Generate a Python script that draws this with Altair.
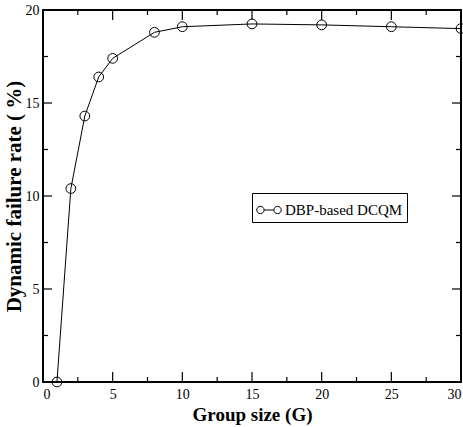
import altair as alt
import pandas as pd

# Group size vs. dynamic failure rate
group_size = [1, 2, 3, 4, 5, 8, 10, 15, 20, 25, 30]
failure_rate = [0.0, 10.4, 14.3, 16.4, 17.4, 18.8, 19.1, 19.25, 19.2, 19.1, 19.0]
series_name = "DBP-based DCQM"

x_major = [0, 5, 10, 15, 20, 25, 30]
x_minor = [2.5, 7.5, 12.5, 17.5, 22.5, 27.5]
y_major = [0, 5, 10, 15, 20]
y_minor = [2.5, 7.5, 12.5, 17.5]

W, H = 418, 372
FONT = "Liberation Serif"

df = pd.DataFrame({"G": group_size, "rate": failure_rate, "series": series_name})

xs = alt.Scale(domain=[0, 30], nice=False)
ys = alt.Scale(domain=[0, 20], nice=False)

x_axis = alt.Axis(values=x_major, ticks=False, domain=False, grid=False,
                  title="Group size (G)", labelPadding=5, titlePadding=4,
                  labelFont=FONT, titleFont=FONT, titleFontSize=19)
y_axis = alt.Axis(values=y_major, ticks=False, domain=False, grid=False,
                  title="Dynamic failure rate ( %)", labelPadding=4, titlePadding=1,
                  labelFont=FONT, titleFont=FONT, titleFontSize=21)

line = alt.Chart(df).mark_line(color="black", strokeWidth=1).encode(
    x=alt.X("G:Q", scale=xs, axis=x_axis),
    y=alt.Y("rate:Q", scale=ys, axis=y_axis),
)

# legend glyph: two open circles joined by a short line
legend_symbol = ("M -1,0 a 0.3,0.3 0 1,0 0.6,0 a 0.3,0.3 0 1,0 -0.6,0 "
                 "M -0.4,0 L 0.4,0 "
                 "M 0.4,0 a 0.3,0.3 0 1,0 0.6,0 a 0.3,0.3 0 1,0 -0.6,0")

points = alt.Chart(df).mark_point(shape="circle", size=95, filled=False,
                                  strokeWidth=1, opacity=1).encode(
    x=alt.X("G:Q", scale=xs, axis=x_axis),
    y=alt.Y("rate:Q", scale=ys, axis=y_axis),
    color=alt.Color("series:N", scale=alt.Scale(range=["black"]),
                    legend=alt.Legend(
                        title=None, orient="none", legendX=209, legendY=183,
                        symbolType=legend_symbol, symbolSize=600,
                        symbolStrokeColor="black", symbolFillColor="transparent",
                        symbolStrokeWidth=1, labelFont=FONT, labelFontSize=15,
                        labelColor="black", strokeColor="black", padding=4,
                        fillColor="white", labelOffset=3)),
)

def xticks(vals, length):
    d = pd.DataFrame({"t": vals})
    bottom = alt.Chart(d).mark_rule(color="black", strokeWidth=1.2).encode(
        x=alt.X("t:Q", scale=xs, axis=x_axis),
        y=alt.value(H), y2=alt.value(H - length))
    top = alt.Chart(d).mark_rule(color="black", strokeWidth=1.2).encode(
        x=alt.X("t:Q", scale=xs, axis=x_axis),
        y=alt.value(0), y2=alt.value(length))
    return [bottom, top]

def yticks(vals, length):
    d = pd.DataFrame({"t": vals})
    left = alt.Chart(d).mark_rule(color="black", strokeWidth=1.2).encode(
        y=alt.Y("t:Q", scale=ys, axis=y_axis),
        x=alt.value(0), x2=alt.value(length))
    right = alt.Chart(d).mark_rule(color="black", strokeWidth=1.2).encode(
        y=alt.Y("t:Q", scale=ys, axis=y_axis),
        x=alt.value(W), x2=alt.value(W - length))
    return [left, right]

layers = ([line] + xticks(x_major, 10) + xticks(x_minor, 5)
          + yticks(y_major, 9) + yticks(y_minor, 5) + [points])

chart = alt.layer(*layers).properties(
    width=W, height=H,
    autosize=alt.AutoSizeParams(type="none"),
    padding={"left": 43, "top": 10, "right": 2, "bottom": 45},
    background="white",
).configure(
    font=FONT
).configure_view(
    stroke="black", strokeWidth=2
).configure_axis(
    labelFont=FONT, labelFontSize=14, labelColor="black",
    titleFont=FONT, titleFontWeight="bold", titleColor="black",
)

chart.save("out.html", embed_options={"renderer": "svg", "actions": False})
